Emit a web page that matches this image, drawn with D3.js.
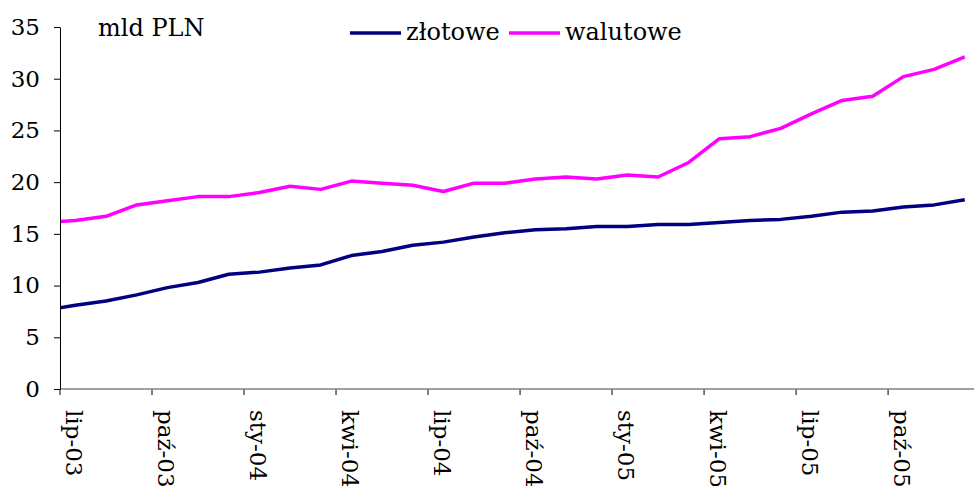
<!DOCTYPE html>
<html>
<head>
<meta charset="utf-8">
<script src="https://cdn.jsdelivr.net/npm/d3@7"></script>
<style>
  html, body { margin: 0; padding: 0; background: #fff; }
  svg { display: block; font-family: "DejaVu Serif", serif; }
</style>
</head>
<body>
<div id="chart"></div>
<script>
// monthly categories; the first one (cze-03) only feeds the clipped lead-in segment
const months = [
  "cze-03",
  "lip-03", "sie-03", "wrz-03", "paź-03", "lis-03", "gru-03",
  "sty-04", "lut-04", "mar-04", "kwi-04", "maj-04", "cze-04",
  "lip-04", "sie-04", "wrz-04", "paź-04", "lis-04", "gru-04",
  "sty-05", "lut-05", "mar-05", "kwi-05", "maj-05", "cze-05",
  "lip-05", "sie-05", "wrz-05", "paź-05", "lis-05", "gru-05",
];

const zlotowe = [
  7.6,
  8.1, 8.5, 9.1, 9.8, 10.3, 11.1,
  11.3, 11.7, 12.0, 12.9, 13.3, 13.9,
  14.2, 14.7, 15.1, 15.4, 15.5, 15.7,
  15.7, 15.9, 15.9, 16.1, 16.3, 16.4,
  16.7, 17.1, 17.2, 17.6, 17.8, 18.3,
];

const walutowe = [
  16.1,
  16.3, 16.7, 17.8, 18.2, 18.6, 18.6,
  19.0, 19.6, 19.3, 20.1, 19.9, 19.7,
  19.1, 19.9, 19.9, 20.3, 20.5, 20.3,
  20.7, 20.5, 21.9, 24.2, 24.4, 25.2,
  26.6, 27.9, 28.3, 30.2, 30.9, 32.1,
];

const yTicks = [0, 5, 10, 15, 20, 25, 30, 35];
const series = [
  { name: "złotowe", values: zlotowe, color: "#000080", legendX: 350 },
  { name: "walutowe", values: walutowe, color: "#ff00ff", legendX: 509 },
];

const W = 974, H = 486;
const plot = { left: 60, top: 27, bottom: 389 };
const step = 30.67;

const svg = d3.select("#chart").append("svg")
  .attr("width", W).attr("height", H)
  .attr("viewBox", `0 0 ${W} ${H}`);

const x = d3.scaleBand()
  .domain(months)
  .range([plot.left - step, plot.left - step + months.length * step])
  .paddingInner(0).paddingOuter(0);
const cx = (m) => x(m) + x.bandwidth() / 2;

const y = d3.scaleLinear().domain([0, 35]).range([plot.bottom, plot.top]);

svg.append("clipPath").attr("id", "plotclip")
  .append("rect")
  .attr("x", plot.left).attr("y", 0)
  .attr("width", W - plot.left).attr("height", H);

// ─── lines ──────────────────────────────────────────────
const line = d3.line()
  .x((d) => cx(d.m))
  .y((d) => y(d.v));

const lineGroup = svg.append("g").attr("clip-path", "url(#plotclip)");
series.forEach((s) => {
  lineGroup.append("path")
    .datum(months.map((m, i) => ({ m, v: s.values[i] })))
    .attr("fill", "none")
    .attr("stroke", s.color)
    .attr("stroke-width", 3.5)
    .attr("stroke-linejoin", "round")
    .attr("d", line);
});

// ─── x axis ─────────────────────────────────────────────
const labelMonths = months.filter((m, i) => i >= 1 && (i - 1) % 3 === 0);
const xAxis = svg.append("g")
  .attr("transform", `translate(0,${plot.bottom})`)
  .call(d3.axisBottom(x).tickValues(labelMonths).tickSize(0).tickSizeOuter(0));
xAxis.select(".domain").remove();
xAxis.append("line")
  .attr("x1", plot.left).attr("x2", W)
  .attr("stroke", "#808080").attr("stroke-width", 1.5);
xAxis.selectAll(".tick").append("line")
  .attr("x1", -step / 2).attr("x2", -step / 2)
  .attr("y1", 0).attr("y2", 6)
  .attr("stroke", "#000").attr("stroke-width", 1);
xAxis.selectAll(".tick text")
  .attr("transform", "rotate(90)")
  .attr("x", 21).attr("y", 2).attr("dy", "0.32em")
  .style("text-anchor", "start")
  .attr("font-family", "DejaVu Serif")
  .attr("font-size", 23)
  .attr("fill", "#000");

// ─── y axis ─────────────────────────────────────────────
const yAxis = svg.append("g")
  .attr("transform", `translate(${plot.left},0)`)
  .call(d3.axisLeft(y).tickValues(yTicks).tickSize(6).tickPadding(14).tickSizeOuter(0));
yAxis.select(".domain").attr("stroke", "#000").attr("stroke-width", 1);
yAxis.selectAll(".tick line").attr("stroke", "#000");
yAxis.selectAll(".tick text")
  .attr("font-family", "DejaVu Serif")
  .attr("font-size", 23)
  .attr("fill", "#000");

// ─── unit label + legend ────────────────────────────────
svg.append("text")
  .attr("x", 98).attr("y", 36)
  .attr("font-size", 24)
  .text("mld PLN");

const legend = svg.append("g");
series.forEach((s) => {
  legend.append("line")
    .attr("x1", s.legendX).attr("x2", s.legendX + 51)
    .attr("y1", 33).attr("y2", 33)
    .attr("stroke", s.color).attr("stroke-width", 3.5);
  legend.append("text")
    .attr("x", s.legendX + 56).attr("y", 40)
    .attr("font-size", 24)
    .text(s.name);
});
</script>
</body>
</html>
